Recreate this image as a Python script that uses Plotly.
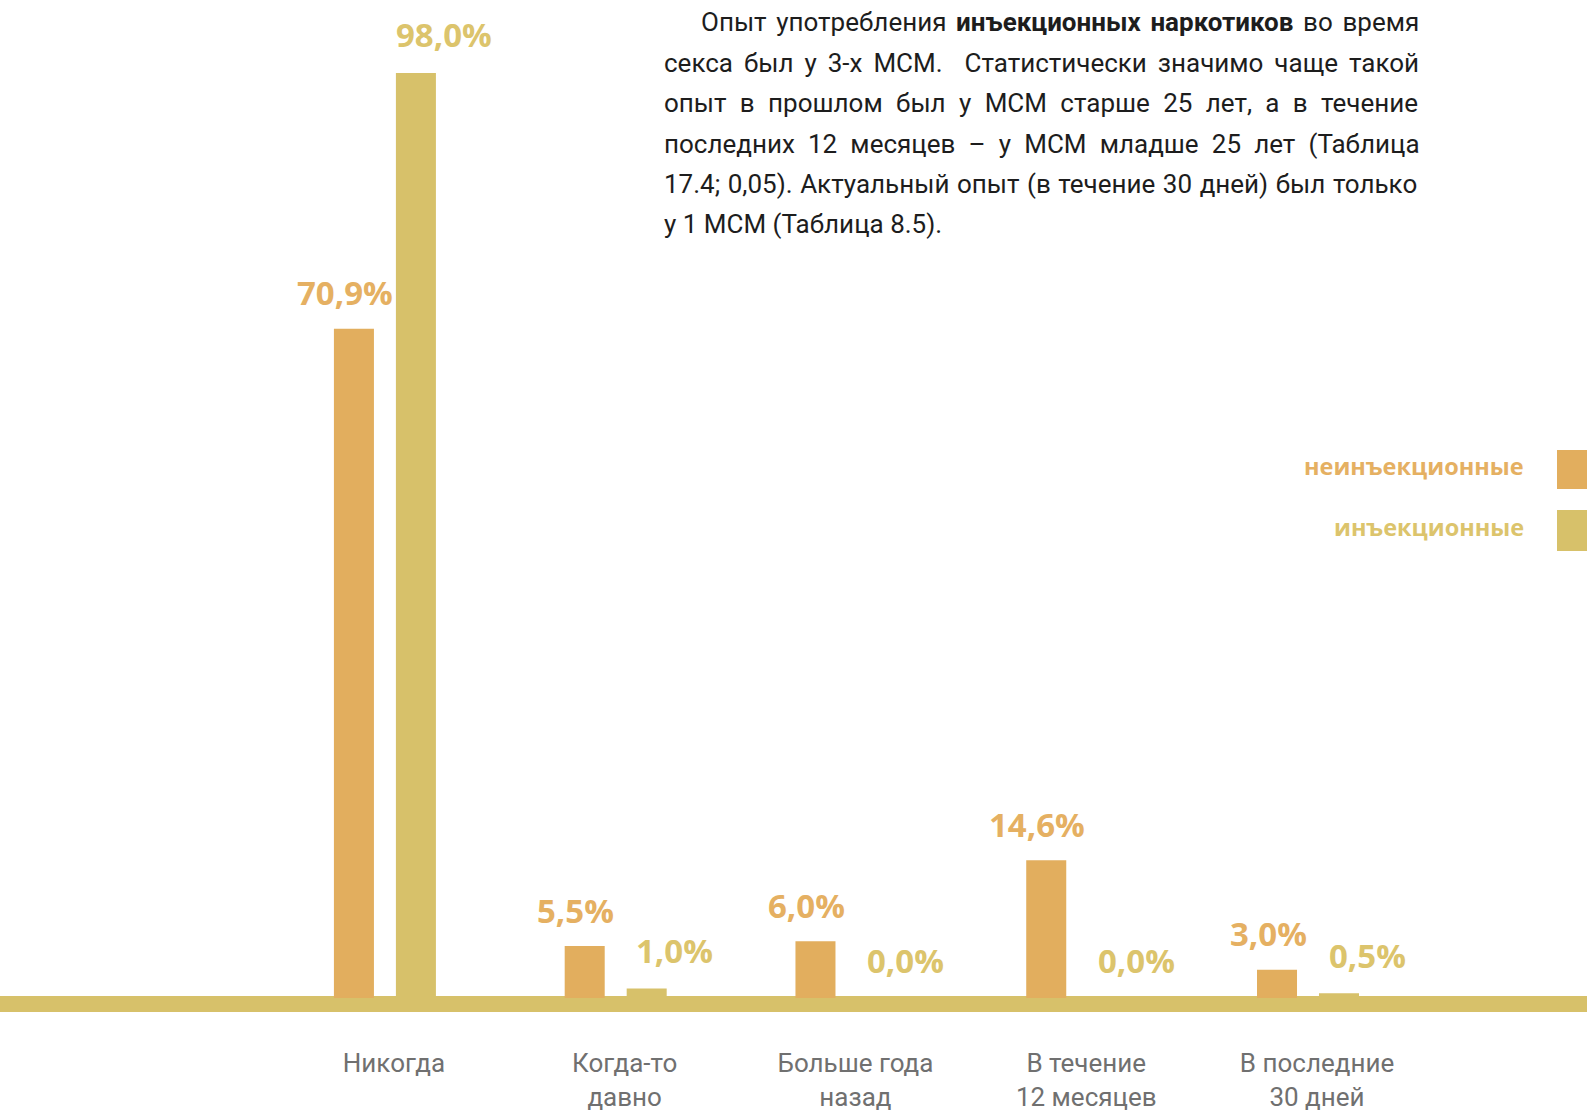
import plotly.graph_objects as go

# Survey answers: when drugs were last used during sex
categories = ["Никогда", "Когда-то<br>давно", "Больше года<br>назад",
              "В течение<br>12 месяцев", "В последние<br>30 дней"]
series_names = ["неинъекционные", "инъекционные"]
non_injection = [70.9, 5.5, 6.0, 14.6, 3.0]
injection = [98.0, 1.0, 0.0, 0.0, 0.5]

paragraph_lines = [
    "Опыт употребления <b>инъекционных наркотиков</b> во время",
    "секса был у 3-х МСМ.\u00a0 Статистически значимо чаще такой",
    "опыт в прошлом был у МСМ старше 25 лет, а в течение",
    "последних 12 месяцев – у МСМ младше 25 лет (Таблица",
    "17.4; 0,05). Актуальный опыт (в течение 30 дней) был только",
    "у 1 МСМ (Таблица 8.5).",
]
# extra space between words (px) so justified lines reach the right margin
paragraph_word_spacing = [3.2, 4.5, 6.9, 6.7, 1.1, 0]

W, H = 1587, 1111
PLOT_BOTTOM = 1012          # pixel row of the bottom of the plotting area
ORANGE = "#E2AE5E"
GOLD = "#D7C16A"
ORANGE_TXT = "#E5B062"
GOLD_TXT = "#DCC46C"

x_idx = list(range(len(categories)))
bar_w = 0.1734

fig = go.Figure()
fig.add_trace(go.Bar(x=x_idx, y=non_injection, name=series_names[0],
                     marker=dict(color=ORANGE, line=dict(width=0)),
                     width=bar_w, offset=-0.221))
fig.add_trace(go.Bar(x=x_idx, y=injection, name=series_names[1],
                     marker=dict(color=GOLD, line=dict(width=0)),
                     width=bar_w, offset=0.0476))


def fmt(v):
    return f"{v:.1f}".replace(".", ",") + "%"


annotations = []
for i, v in enumerate(non_injection):
    annotations.append(dict(x=i, y=v, xref="x", yref="y", text=fmt(v),
                            showarrow=False, xshift=-40, yshift=36,
                            yanchor="middle",
                            font=dict(family="Open Sans", size=33,
                                      color=ORANGE_TXT, weight="bold")))
for i, v in enumerate(injection):
    annotations.append(dict(x=i, y=v, xref="x", yref="y", text=fmt(v),
                            showarrow=False, xshift=59, yshift=38,
                            yanchor="middle",
                            font=dict(family="Open Sans", size=33,
                                      color=GOLD_TXT, weight="bold")))


def py(pixel):
    """Convert a pixel row to paper y."""
    return (PLOT_BOTTOM - pixel) / PLOT_BOTTOM


# legend: right-aligned labels with swatches at the right edge
legend_rows = [(series_names[0], ORANGE_TXT, ORANGE, 466, 450, 489),
               (series_names[1], GOLD_TXT, GOLD, 527, 510, 551)]
shapes = []
for name, tcol, scol, yc, y0, y1 in legend_rows:
    annotations.append(dict(x=1526 / W, y=py(yc), xref="paper", yref="paper",
                            text=name, showarrow=False, xanchor="right",
                            yanchor="middle",
                            font=dict(family="Open Sans", size=23.5,
                                      color=tcol, weight="bold")))
    shapes.append(dict(type="rect", xref="paper", yref="paper",
                       x0=1557 / W, x1=1.02, y0=py(y1), y1=py(y0),
                       fillcolor=scol, line=dict(width=0)))

# descriptive paragraph
line_y = [22, 63, 103, 144, 184, 224]
for k, (txt, yc, ws) in enumerate(zip(paragraph_lines, line_y,
                                      paragraph_word_spacing)):
    x_left = 699 if k == 0 else 662
    annotations.append(dict(x=x_left / W, y=py(yc), xref="paper", yref="paper",
                            text=f'<span style="word-spacing:{ws}px">{txt}</span>',
                            showarrow=False, xanchor="left",
                            yanchor="middle",
                            font=dict(family="Roboto", size=26,
                                      color="#1d1d1d")))

# thick baseline band across the full width
shapes.append(dict(type="rect", xref="paper", yref="y", x0=0, x1=1,
                   y0=-1.5, y1=0.2, fillcolor=GOLD, line=dict(width=0),
                   layer="below"))

fig.update_layout(
    width=W, height=H,
    margin=dict(l=0, r=0, t=0, b=H - PLOT_BOTTOM, pad=0),
    paper_bgcolor="white", plot_bgcolor="white",
    barmode="overlay", showlegend=False,
    annotations=annotations, shapes=shapes,
    xaxis=dict(range=[-1.668, 5.209], tickmode="array", tickvals=x_idx,
               ticktext=categories, showgrid=False, zeroline=False,
               showline=False, ticks="", ticklabelstandoff=33,
               ticklabelshift=9,
               tickfont=dict(family="Roboto", size=26, color="#707070")),
    yaxis=dict(range=[-1.483, 105.72], visible=False),
)

fig.write_html("out.html")
